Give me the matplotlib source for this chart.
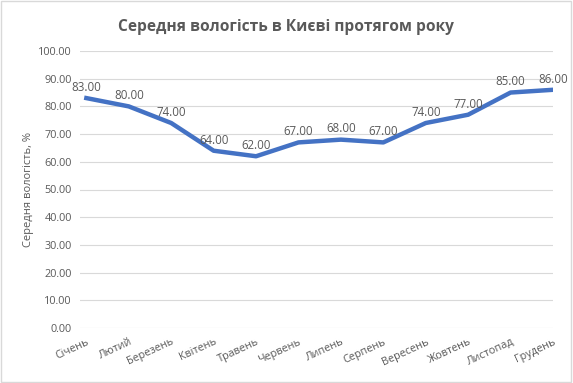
import matplotlib
matplotlib.use("Agg")
import matplotlib.pyplot as plt
from matplotlib.patches import Rectangle

# Дані
months = ["Січень", "Лютий", "Березень", "Квітень", "Травень", "Червень",
          "Липень", "Серпень", "Вересень", "Жовтень", "Листопад", "Грудень"]
humidity = [83, 80, 74, 64, 62, 67, 68, 67, 74, 77, 85, 86]
yticks = [0, 10, 20, 30, 40, 50, 60, 70, 80, 90, 100]

plt.rcParams['font.family'] = ['Open Sans', 'DejaVu Sans']
grey = "#595959"

fig = plt.figure(figsize=(5.73, 3.83), dpi=100)
ax = fig.add_axes([80 / 573, 1 - 328 / 383, 473 / 573, 277 / 383])

x = list(range(len(months)))
ax.plot(x, humidity, color="#4472C4", lw=3.2, solid_joinstyle="round")

for xi, v in zip(x, humidity):
    ax.annotate(f"{v:.2f}", (xi, v), xytext=(0, 3), textcoords="offset points",
                ha="center", va="bottom", fontsize=8.3, color=grey)

ax.set_xlim(-0.15, 11)
ax.set_ylim(0, 100)
ax.set_yticks(yticks)
ax.set_yticklabels([f"{t:.2f}" for t in yticks], fontsize=7.8, color=grey)
ax.set_xticks(x)
ax.set_xticklabels(months, rotation=25, ha="right", rotation_mode="anchor",
                   fontsize=7.8, color=grey)
ax.tick_params(length=0, pad=6)
ax.grid(axis="y", color="#d9d9d9", lw=0.8)
ax.set_axisbelow(True)
for s in ax.spines.values():
    s.set_visible(False)

ax.set_ylabel("Середня вологість, %", fontsize=8, color=grey, labelpad=3)
fig.text(0.5, 1 - 27 / 383, "Середня вологість в Києві протягом року",
         ha="center", va="center", fontsize=11.2, fontweight="bold", color=grey)

fig.patches.append(Rectangle((0.002, 0.003), 0.995, 0.994, transform=fig.transFigure,
                             fill=False, edgecolor="#d9d9d9", lw=1))

fig.savefig("out.png", dpi=100)
